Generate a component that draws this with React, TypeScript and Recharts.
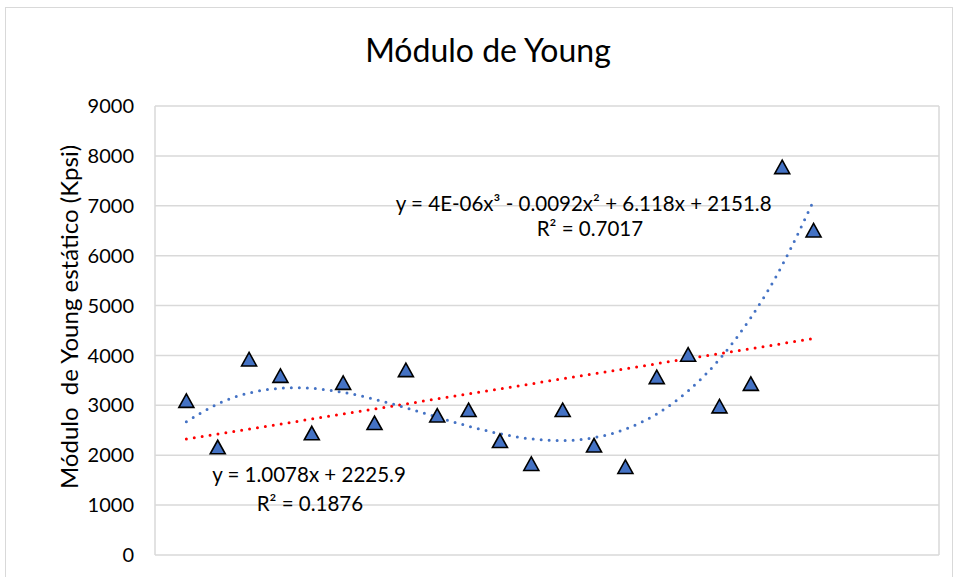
import React from "react";
import {
  ComposedChart,
  Scatter,
  Line,
  XAxis,
  YAxis,
  CartesianGrid,
  ReferenceDot,
} from "recharts";

// depth-ish x values (one sample every 100 units)
const xValues = [
  100, 200, 300, 400, 500, 600, 700, 800, 900, 1000, 1100, 1200, 1300, 1400,
  1500, 1600, 1700, 1800, 1900, 2000, 2100,
];
const youngValues = [
  3090, 2160, 3920, 3590, 2440, 3450, 2645, 3705, 2795, 2905, 2285, 1825,
  2905, 2195, 1765, 3565, 4015, 2980, 3430, 7775, 6505,
];
const xTicks = [0, 500, 1000, 1500, 2000, 2500];
const yTicks = [0, 1000, 2000, 3000, 4000, 5000, 6000, 7000, 8000, 9000];

const FONT = "Lato, 'Open Sans', sans-serif";

// least squares polynomial fit (what the spreadsheet trendline does)
function polyfit(xs: number[], ys: number[], deg: number) {
  const n = deg + 1;
  const s = 1000; // scale x for stability
  const A: number[][] = [];
  for (let r = 0; r < n; r++) {
    const row: number[] = [];
    for (let c = 0; c < n; c++) {
      let sum = 0;
      xs.forEach((x) => (sum += Math.pow(x / s, r + c)));
      row.push(sum);
    }
    let rhs = 0;
    xs.forEach((x, i) => (rhs += ys[i] * Math.pow(x / s, r)));
    row.push(rhs);
    A.push(row);
  }
  for (let i = 0; i < n; i++) {
    let p = i;
    for (let k = i + 1; k < n; k++) if (Math.abs(A[k][i]) > Math.abs(A[p][i])) p = k;
    [A[i], A[p]] = [A[p], A[i]];
    for (let k = i + 1; k < n; k++) {
      const f = A[k][i] / A[i][i];
      for (let c = i; c <= n; c++) A[k][c] -= f * A[i][c];
    }
  }
  const coef = new Array(n).fill(0);
  for (let i = n - 1; i >= 0; i--) {
    let v = A[i][n];
    for (let c = i + 1; c < n; c++) v -= A[i][c] * coef[c];
    coef[i] = v / A[i][i];
  }
  return (x: number) => coef.reduce((acc, a, i) => acc + a * Math.pow(x / s, i), 0);
}

const linFit = polyfit(xValues, youngValues, 1);
const cubFit = polyfit(xValues, youngValues, 3);

const data = xValues.map((x, i) => ({
  x,
  y: youngValues[i],
  lin: linFit(x),
  cub: cubFit(x),
}));

const Triangle = (props: any) => {
  const { cx, cy } = props;
  if (cx == null || cy == null) return null;
  return (
    <path
      d={`M${cx},${cy - 7} L${cx + 7.5},${cy + 6.5} L${cx - 7.5},${cy + 6.5} Z`}
      fill="#4472C4"
      stroke="#000"
      strokeWidth={1.6}
      strokeLinejoin="miter"
    />
  );
};

const textLabel = (value: string) => ({
  value,
  position: "center" as const,
  fontSize: 20.5,
  fill: "#000",
  fontFamily: FONT,
});

const YLabel = () => (
  <text
    x={68}
    y={317}
    transform="rotate(-90 68 317)"
    textAnchor="middle"
    dominantBaseline="central"
    fontSize={24}
    fontFamily={FONT}
    fill="#000"
    style={{ whiteSpace: "pre" }}
  >
    {"Módulo  de Young estático (Kpsi)"}
  </text>
);

export default function App() {
  return (
    <div
      style={{
        position: "absolute",
        left: 0,
        top: 0,
        width: 956,
        height: 577,
        background: "#fff",
        overflow: "hidden",
      }}
    >
      <div
        style={{
          position: "absolute",
          left: 5,
          top: 7,
          width: 946,
          height: 600,
          border: "1px solid #d9d9d9",
        }}
      />
      <div
        style={{
          position: "absolute",
          left: 0,
          top: 34,
          width: 976,
          textAlign: "center",
          fontFamily: FONT,
          fontSize: 32,
          lineHeight: "32px",
          color: "#000",
        }}
      >
        Módulo de Young
      </div>
      <div style={{ position: "absolute", left: 0, top: 0 }}>
        <ComposedChart
          width={956}
          height={577}
          data={data}
          margin={{ top: 106, right: 17, bottom: 22, left: 0 }}
        >
          <CartesianGrid stroke="#d9d9d9" strokeWidth={1.5} />
          <XAxis
            type="number"
            dataKey="x"
            domain={[0, 2500]}
            ticks={xTicks}
            tick={false}
            tickLine={false}
            axisLine={{ stroke: "#d9d9d9", strokeWidth: 1.5 }}
            height={0}
          />
          <YAxis
            type="number"
            domain={[0, 9000]}
            ticks={yTicks}
            width={155}
            axisLine={false}
            tickLine={false}
            tickMargin={15}
            tick={{ fontSize: 20, fill: "#000", fontFamily: FONT }}
            label={{ content: YLabel }}
          />
          <Line
            dataKey="lin"
            type="linear"
            stroke="#FF0000"
            strokeWidth={3}
            strokeDasharray="0 8"
            strokeLinecap="round"
            dot={false}
            activeDot={false}
            isAnimationActive={false}
          />
          <Line
            dataKey="cub"
            type="natural"
            stroke="#4472C4"
            strokeWidth={3}
            strokeDasharray="0 8"
            strokeLinecap="round"
            dot={false}
            activeDot={false}
            isAnimationActive={false}
          />
          <Scatter dataKey="y" shape={<Triangle />} isAnimationActive={false} />
          <ReferenceDot
            x={1367}
            y={7040}
            r={0}
            fill="none"
            stroke="none"
            label={textLabel("y = 4E-06x³ - 0.0092x² + 6.118x + 2151.8")}
          />
          <ReferenceDot
            x={1387}
            y={6540}
            r={0}
            fill="none"
            stroke="none"
            label={textLabel("R² = 0.7017")}
          />
          <ReferenceDot
            x={491}
            y={1615}
            r={0}
            fill="none"
            stroke="none"
            label={textLabel("y = 1.0078x + 2225.9")}
          />
          <ReferenceDot
            x={494}
            y={1030}
            r={0}
            fill="none"
            stroke="none"
            label={textLabel("R² = 0.1876")}
          />
        </ComposedChart>
      </div>
    </div>
  );
}
